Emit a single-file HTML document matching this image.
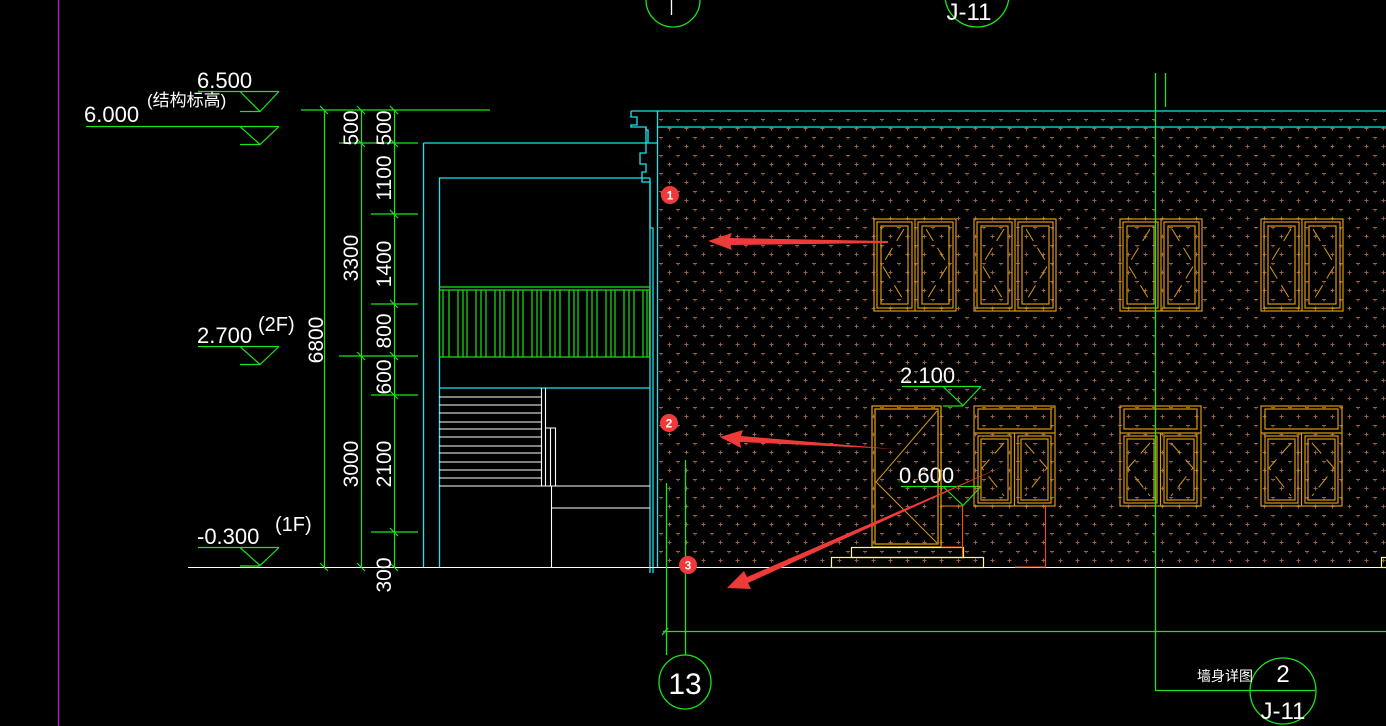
<!DOCTYPE html>
<html><head><meta charset="utf-8"><style>
html,body{margin:0;padding:0;background:#000;}
svg{display:block}
text{font-family:"Liberation Sans Narrow","Liberation Sans","Noto Sans CJK SC",sans-serif;fill:#fff;}
</style></head><body>
<svg width="1386" height="726" viewBox="0 0 1386 726" xmlns="http://www.w3.org/2000/svg">
<defs>
<pattern id="dots" x="657" y="119" width="17" height="18" patternUnits="userSpaceOnUse">
<path d="M2 0.5h4M4 -1.5v4M10.5 9.5h4M12.5 7.5v4" stroke="#9a5f4c" stroke-width="1"/>
</pattern>
<g id="win" fill="none" stroke="#d99a10" stroke-width="1.2">
<rect x="0" y="0" width="82" height="92"/>
<line x1="41" y1="0" x2="41" y2="92"/>
<rect x="3" y="3" width="35" height="86"/><rect x="7" y="7" width="27" height="78"/>
<rect x="44" y="3" width="35" height="86"/><rect x="48" y="7" width="27" height="78"/>
<path d="M30 10 L8 46 L30 82 M52 10 L74 46 L52 82" stroke-width="1" stroke-dasharray="14 8"/>
</g>
<g id="win2" fill="none" stroke="#d99a10" stroke-width="1.2">
<rect x="0" y="0" width="81" height="100"/>
<rect x="4" y="3" width="73" height="20"/>
<line x1="0" y1="27" x2="81" y2="27"/>
<line x1="40.5" y1="27" x2="40.5" y2="100"/>
<rect x="4" y="30" width="33" height="67"/><rect x="7" y="33" width="27" height="61"/>
<rect x="44" y="30" width="33" height="67"/><rect x="47" y="33" width="27" height="61"/>
<path d="M30 37 L8 62 L30 90 M51 37 L73 62 L51 90" stroke-width="1" stroke-dasharray="14 8"/>
</g>
</defs>

<line x1="58.5" y1="0" x2="58.5" y2="726" stroke="#c020c0" stroke-width="1.2"/>

<rect x="658" y="112" width="728" height="455" fill="url(#dots)"/>

<g stroke="#19e6f0" stroke-width="1.3" fill="none">
<polyline points="631,111 1386,111"/>
<line x1="658" y1="127" x2="1386" y2="127"/>
<line x1="657.5" y1="111" x2="657.5" y2="567"/>
<polyline points="631,111 631,117 637,117 637,125 631,125 631,127 646,127 646,153 640,153 640,164 646,164 646,172 642,172 642,182 650,182 650,228 653,228 653,573"/>
<polyline points="646,127 646,130 648,130 648,143"/>
<line x1="423.5" y1="143" x2="657" y2="143"/>
<line x1="423.5" y1="143" x2="423.5" y2="567"/>
<polyline points="439.5,567 439.5,178 650,178"/>
<line x1="439" y1="388" x2="650" y2="388"/>
<line x1="650" y1="178" x2="650" y2="573"/>
</g>

<g stroke="#19e619" stroke-width="1.2" fill="none">
<line x1="439" y1="287" x2="650" y2="287"/>
<rect x="439.5" y="290" width="210" height="67"/>
<path d="M443 290v67M449 290v67M458 290v67M463 290v67M467 290v67M476 290v67M481 290v67M486 290v67M495 290v67M500 290v67M504 290v67M513 290v67M518 290v67M523 290v67M532 290v67M537 290v67M541 290v67M550 290v67M555 290v67M560 290v67M569 290v67M574 290v67M578 290v67M587 290v67M592 290v67M597 290v67M606 290v67M611 290v67M615 290v67M624 290v67M629 290v67M634 290v67M643 290v67M647 290v67"/>
</g>

<g stroke="#fff" stroke-width="1.1" fill="none">
<path d="M439 397h102M439 405h102M439 413h102M439 422h102M439 429h102M439 437h102M439 446h102M439 453h102M439 462h102M439 470h102M439 478h102"/>
<path d="M541.5 388v98M545.5 388v98M545 428h11M550.5 428v58M555.5 428v58"/>
<line x1="439" y1="486" x2="650" y2="486"/>
<line x1="551" y1="508" x2="650" y2="508"/>
<line x1="551.5" y1="486" x2="551.5" y2="567"/>
<line x1="188" y1="567.5" x2="1386" y2="567.5"/>
</g>

<g stroke="#19e619" stroke-width="1.2" fill="none">
<line x1="301" y1="110" x2="490" y2="110"/>
<line x1="324.5" y1="110" x2="324.5" y2="567"/>
<line x1="361.5" y1="110" x2="361.5" y2="567"/>
<line x1="394.5" y1="110" x2="394.5" y2="567"/>
<path d="M339 143h79M371 214h47M371 304h47M339 356h79M371 395h47M371 532h47"/>
<path d="M320 106l8 8M357 106l8 8M390 106l8 8M357 139l8 8M390 139l8 8M390 210l8 8M390 300l8 8M357 352l8 8M390 352l8 8M390 391l8 8M390 528l8 8M320 563l8 8M357 563l8 8M390 563l8 8"/>
<path d="M198 91.5h81M240 111.5h20M240 91.5l20 20l19-20"/>
<path d="M86 126.5h193M240 144.5h20M240 126.5l20 18l19-18"/>
<path d="M198 346.5h81M240 364.5h20M240 346.5l20 18l19-18"/>
<path d="M198 547.5h81M240 566h20M240 547.5l20 18l19-18"/>
<path d="M902 386.5h79M943 406h20M943 386.5l20 19l18-19"/>
<path d="M901 486.5h80M943 506h20M943 486.5l20 19l18-19"/>
</g>

<g font-size="22">
<text x="197" y="88">6.500</text>
<text x="84" y="122">6.000</text>
<text x="147" y="106" font-size="17">(结构标高)</text>
<text x="197" y="343">2.700</text>
<text x="258" y="331" font-size="20">(2F)</text>
<text x="197" y="544">-0.300</text>
<text x="275" y="531" font-size="20">(1F)</text>
<text x="900" y="383">2.100</text>
<text x="899" y="483">0.600</text>
</g>
<g font-size="21">
<text transform="translate(323,340) rotate(-90)" text-anchor="middle">6800</text>
<text transform="translate(358,128) rotate(-90)" text-anchor="middle">500</text>
<text transform="translate(358,258) rotate(-90)" text-anchor="middle">3300</text>
<text transform="translate(358,464) rotate(-90)" text-anchor="middle">3000</text>
<text transform="translate(391,128) rotate(-90)" text-anchor="middle">500</text>
<text transform="translate(391,178) rotate(-90)" text-anchor="middle">1100</text>
<text transform="translate(391,264) rotate(-90)" text-anchor="middle">1400</text>
<text transform="translate(391,331) rotate(-90)" text-anchor="middle">800</text>
<text transform="translate(391,377) rotate(-90)" text-anchor="middle">600</text>
<text transform="translate(391,464) rotate(-90)" text-anchor="middle">2100</text>
<text transform="translate(391,575) rotate(-90)" text-anchor="middle">300</text>
</g>

<use href="#win" x="874" y="219"/>
<use href="#win" x="974" y="219"/>
<use href="#win" x="1120" y="219"/>
<use href="#win" x="1261" y="219"/>
<use href="#win2" x="974" y="406"/>
<use href="#win2" x="1120" y="406"/>
<use href="#win2" x="1261" y="406"/>
<g fill="none" stroke="#d99a10" stroke-width="1.3">
<rect x="872" y="406" width="69" height="141"/>
<rect x="875" y="409" width="63" height="135"/>
<path d="M937 411L876 482L937 543" stroke-width="1"/>
</g>
<g fill="none" stroke="#ffff80" stroke-width="1.2">
<rect x="851.5" y="547.5" width="112" height="10"/>
<rect x="831.5" y="557.5" width="152" height="10"/>
<rect x="1381.5" y="557.5" width="10" height="10"/>
</g>
<g stroke="#ff4a00" stroke-width="1.1" fill="none">
<path d="M942 506h21M962.5 506v51M941 547h22"/>
<path d="M1045.5 505v62M1015 567h31"/>
</g>

<g stroke="#19e619" stroke-width="1.3" fill="none">
<line x1="666.5" y1="483" x2="666.5" y2="655"/>
<line x1="685.5" y1="460" x2="685.5" y2="655"/>
<line x1="663" y1="631.5" x2="1386" y2="631.5"/>
<line x1="662" y1="635" x2="668" y2="628"/>
<ellipse cx="685" cy="682" rx="26" ry="27"/>
<line x1="1155.5" y1="73" x2="1155.5" y2="690"/>
<line x1="1165.5" y1="73" x2="1165.5" y2="107"/>
<line x1="1155" y1="690.5" x2="1315" y2="690.5"/>
<circle cx="1283" cy="691" r="33"/>
<circle cx="673" cy="0" r="27"/>
<circle cx="977" cy="-5" r="32"/>
</g>
<text x="685" y="694" font-size="30" text-anchor="middle">13</text>
<text x="1283" y="682" font-size="24" text-anchor="middle">2</text>
<text x="1283" y="719" font-size="24" text-anchor="middle">J-11</text>
<text x="1197" y="681" font-size="14">墙身详图</text>
<text x="969" y="20" font-size="24" text-anchor="middle">J-11</text>
<line x1="671.5" y1="0" x2="671.5" y2="15" stroke="#fff" stroke-width="1.3"/>

<g fill="#f03a3a">
<polygon points="888,241 730,238 732,233 708,241 732,250 730,245 888,243"/>
<polygon points="895,449 741,436 743,430 720,437 741,448 740,442"/>
<polygon points="1008,464 747,577 744,571 727,588 751,589 748,583"/>
<circle cx="670" cy="195" r="9"/>
<circle cx="669" cy="423" r="9"/>
<circle cx="688" cy="565" r="9"/>
</g>
<g font-size="12" text-anchor="middle" font-weight="bold">
<text x="670" y="199.5">1</text>
<text x="669" y="427.5">2</text>
<text x="688" y="569.5">3</text>
</g>
</svg>
</body></html>
